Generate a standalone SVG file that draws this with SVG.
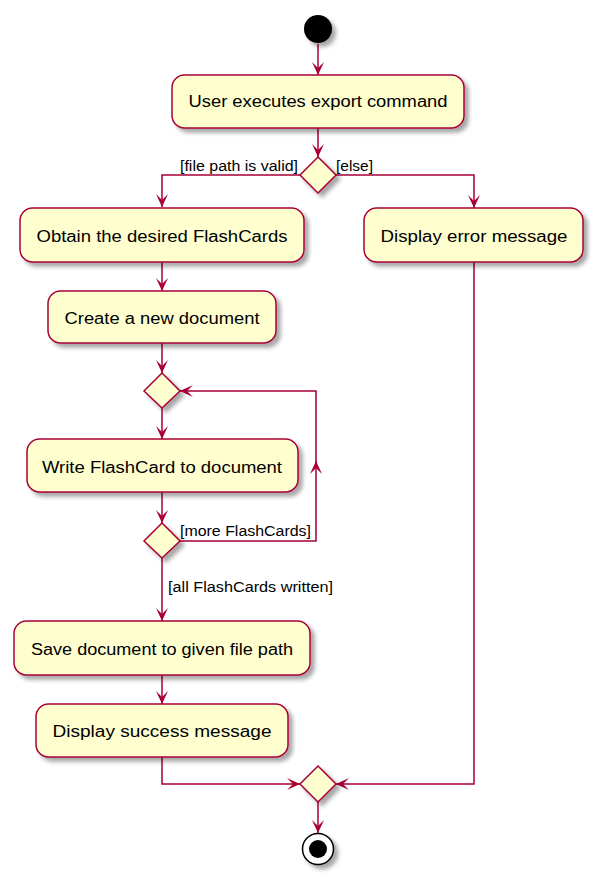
<svg xmlns="http://www.w3.org/2000/svg" width="598" height="880" viewBox="0 0 598 880">
<style>
.act{fill:#FEFECE;stroke:#A80036;stroke-width:1.5;filter:url(#sh)}
.dia{fill:#FEFECE;stroke:#A80036;stroke-width:1.5;filter:url(#sh)}
.t{font-family:"Liberation Sans",Arial,sans-serif;font-size:16px;fill:#000;text-anchor:middle}
.l{font-family:"Liberation Sans",Arial,sans-serif;font-size:14px;fill:#000}
.c{fill:none;stroke:#A80036;stroke-width:1.5;marker-end:url(#ah)}
</style>
<defs>
<filter id="sh" x="-20%" y="-20%" width="150%" height="160%">
<feGaussianBlur in="SourceAlpha" stdDeviation="2"/>
<feOffset dx="4" dy="4" result="o"/>
<feComponentTransfer><feFuncA type="linear" slope="0.35"/></feComponentTransfer>
<feMerge><feMergeNode/><feMergeNode in="SourceGraphic"/></feMerge>
</filter>
<marker id="ah" viewBox="0 0 13 12" refX="13" refY="6" markerWidth="13" markerHeight="12" markerUnits="userSpaceOnUse" orient="auto">
<path d="M0,0 L13,6 L0,12 L6,6 Z" fill="#A80036"/>
</marker>
</defs>
<g id="connectors">
<path class="c" d="M318,44 V75"/>
<path class="c" d="M318,128 V157"/>
<path class="c" d="M300,175 H162 V207"/>
<path class="c" d="M336,175 H474 V208"/>
<path class="c" d="M162,262 V291"/>
<path class="c" d="M162,343 V373"/>
<path class="c" d="M162,408 V439"/>
<path class="c" d="M162,492 V523"/>
<path class="c" d="M180,541 H316 V461"/>
<path class="c" d="M316,467 V391 H180"/>
<path class="c" d="M162,558 V621"/>
<path class="c" d="M162,675 V704"/>
<path class="c" d="M162,757 V784 H300"/>
<path class="c" d="M474,262 V784 H336"/>
<path class="c" d="M318,802 V833"/>
</g>
<g id="start"><circle cx="318" cy="29" r="14" fill="#000" filter="url(#sh)"/></g>
<g id="n1"><rect class="act" x="172" y="75" width="292" height="53" rx="12.5"/><text class="t" x="318" y="107" textLength="259" lengthAdjust="spacingAndGlyphs">User executes export command</text></g>
<g id="d1"><polygon class="dia" points="318,157 336,175 318,193 300,175"/>
<text class="l" x="180" y="171" textLength="118" lengthAdjust="spacingAndGlyphs">[file path is valid]</text>
<text class="l" x="336" y="171" textLength="37" lengthAdjust="spacingAndGlyphs">[else]</text></g>
<g id="n2"><rect class="act" x="20" y="208" width="284" height="54" rx="12.5"/><text class="t" x="162" y="242" textLength="251" lengthAdjust="spacingAndGlyphs">Obtain the desired FlashCards</text></g>
<g id="n3"><rect class="act" x="364" y="208" width="219" height="54" rx="12.5"/><text class="t" x="474" y="242" textLength="187" lengthAdjust="spacingAndGlyphs">Display error message</text></g>
<g id="n4"><rect class="act" x="48" y="291" width="228" height="52" rx="12.5"/><text class="t" x="162" y="324" textLength="195" lengthAdjust="spacingAndGlyphs">Create a new document</text></g>
<g id="d2"><polygon class="dia" points="162,373 180,391 162,408 144,391"/></g>
<g id="n5"><rect class="act" x="27" y="439" width="271" height="53" rx="12.5"/><text class="t" x="162" y="473" textLength="240" lengthAdjust="spacingAndGlyphs">Write FlashCard to document</text></g>
<g id="d3"><polygon class="dia" points="162,523 180,541 162,558 144,541"/>
<text class="l" x="180" y="536" textLength="131" lengthAdjust="spacingAndGlyphs">[more FlashCards]</text>
<text class="l" x="168" y="592" textLength="165" lengthAdjust="spacingAndGlyphs">[all FlashCards written]</text></g>
<g id="n6"><rect class="act" x="14" y="621" width="296" height="54" rx="12.5"/><text class="t" x="162" y="655" textLength="262" lengthAdjust="spacingAndGlyphs">Save document to given file path</text></g>
<g id="n7"><rect class="act" x="36" y="704" width="252" height="53" rx="12.5"/><text class="t" x="162" y="737" textLength="219" lengthAdjust="spacingAndGlyphs">Display success message</text></g>
<g id="d4"><polygon class="dia" points="318,766 336,784 318,802 300,784"/></g>
<g id="end"><circle cx="318" cy="849" r="15.5" fill="#fff" stroke="#000" stroke-width="1.5" filter="url(#sh)"/><circle cx="318" cy="849" r="9" fill="#000"/></g>
</svg>
